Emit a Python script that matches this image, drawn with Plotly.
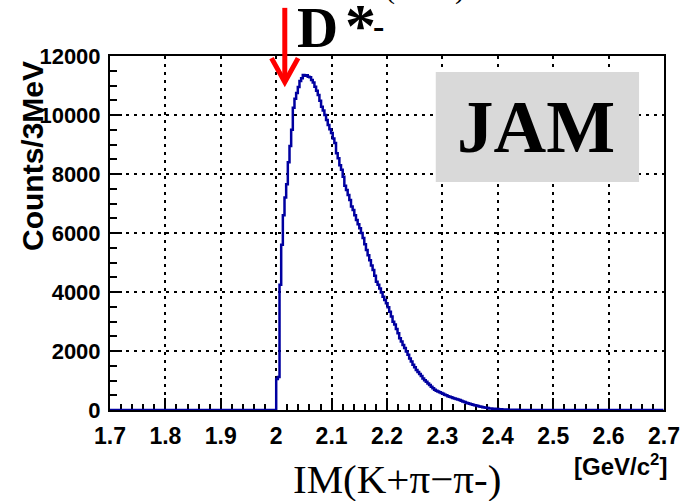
import numpy as np
import plotly.graph_objects as go

# Histogram binning: 3 MeV bins from 1.7 GeV
X_START = 1.7
BIN_WIDTH = 0.003
N_BINS = 333
N_EMPTY_LOW = 100  # bins below 2.0 GeV are empty

# Counts per 3 MeV bin starting at 2.000 GeV
peak_counts = [
    1050, 1120, 4250, 5600, 6600, 7200, 7650, 8400, 8950, 9500,
    10250, 10550, 10750, 10950, 11150, 11250, 11360, 11330, 11350, 11300,
    11280, 11190, 11100, 10960, 10820, 10680, 10480, 10280, 10150, 10000,
    9830, 9660, 9520, 9390, 9200, 9050, 8700, 8530, 8300, 8140,
    7910, 7600, 7460, 7290, 7120, 6900, 6780, 6600, 6440, 6300,
    6160, 6000, 5830, 5620, 5420, 5250, 5080, 4900, 4750, 4550,
    4350, 4250, 4120, 3980, 3840, 3730, 3620, 3480, 3330, 3170,
    2990, 2900, 2750, 2600, 2430, 2320, 2200, 2100, 1980, 1870,
    1750, 1640, 1530, 1450, 1360, 1290, 1220, 1150, 1070, 1010,
    960, 900, 850, 790, 735, 690, 650, 630, 600, 580,
    550, 520, 500, 470, 450, 430, 410, 390, 370, 355,
    340, 310, 290, 270, 250, 230, 210, 195, 180, 165,
    150, 135, 120, 110, 95, 85, 75, 65, 55, 50,
    45, 40, 35, 30, 26, 22, 20, 17, 15, 12,
    10, 9, 8, 7, 6, 5, 4, 4, 3, 3,
    2, 2, 2, 1, 1,
]

x_ticks = [1.7, 1.8, 1.9, 2.0, 2.1, 2.2, 2.3, 2.4, 2.5, 2.6, 2.7]
x_tick_text = ["1.7", "1.8", "1.9", "2", "2.1", "2.2", "2.3", "2.4", "2.5", "2.6", "2.7"]
y_ticks = [0, 2000, 4000, 6000, 8000, 10000, 12000]
y_tick_text = ["0", "2000", "4000", "6000", "8000", "10000", "12000"]

counts = [0] * N_EMPTY_LOW + peak_counts
counts += [0] * (N_BINS - len(counts))
edges = X_START + BIN_WIDTH * np.arange(N_BINS + 1)

# ROOT-style outline: step function starting from zero
step_x = np.concatenate([[edges[0]], edges])
step_y = np.concatenate([[0], counts, [counts[-1]]])

HIST_COLOR = "rgb(0,0,160)"
ARROW_X = 2.0155  # D*- mass marker
SERIF = "Liberation Serif, Times New Roman, serif"
SANS = "Liberation Sans, Arial, sans-serif"

# plot-area pixel geometry, used to place the free-floating labels
PL, PR, PT, PB = 110, 664, 56, 410


def px(x):
    return (x - PL) / (PR - PL)


def py(y):
    return (PB - y) / (PB - PT)


fig = go.Figure()
fig.add_trace(go.Scatter(
    x=step_x, y=step_y, mode="lines", line_shape="hv",
    line=dict(color=HIST_COLOR, width=2.5), hoverinfo="skip", showlegend=False,
))

axis_common = dict(
    showgrid=True, gridcolor="black", gridwidth=2, griddash="3px,5px",
    showline=True, linecolor="black", linewidth=2, mirror=True,
    ticks="inside", tickcolor="black", tickwidth=2, zeroline=False,
    layer="below traces", automargin=False,
)

fig.update_xaxes(
    range=[1.7, 2.7], tickvals=x_ticks, ticktext=x_tick_text, ticklen=12,
    minor=dict(ticks="inside", dtick=0.02, ticklen=6, tickwidth=2, tickcolor="black", showgrid=False),
    ticklabelstandoff=4, tickfont=dict(family=SANS, size=23, color="black", weight="bold"),
    **axis_common,
)
fig.update_yaxes(
    range=[0, 12000], tickvals=y_ticks, ticktext=y_tick_text, ticklen=12,
    minor=dict(ticks="inside", dtick=500, ticklen=7, tickwidth=2, tickcolor="black", showgrid=False),
    ticklabelstandoff=3, tickfont=dict(family=SANS, size=22, color="black", weight="bold"),
    **axis_common,
)

# JAM label box
fig.add_shape(type="rect", xref="x", yref="y", x0=2.288, x1=2.655, y0=7730, y1=11460,
              fillcolor="rgb(217,217,217)", line_width=0, layer="above")
fig.add_annotation(x=2.469, y=9560, xref="x", yref="y", text="<b>JAM</b>", showarrow=False,
                   font=dict(family=SERIF, size=73, color="black"))

# Red arrow marking the D*- mass
fig.add_shape(type="line", xref="x", yref="paper", x0=ARROW_X, x1=ARROW_X, y0=0.94, y1=1.136,
              line=dict(color="red", width=5))
fig.add_shape(type="path", xref="paper", yref="paper",
              path="M {a},{b} L {c},{d} L {e},{b}".format(
                  a=(ARROW_X - 1.7) - 0.024, b=0.994, c=(ARROW_X - 1.7), d=0.926, e=(ARROW_X - 1.7) + 0.024),
              line=dict(color="red", width=5))

# D*- label, with the mass line above it running off the top edge
fig.add_annotation(x=px(425), y=py(7), xref="paper", yref="paper",
                   xanchor="center", yanchor="bottom", text="(2010)", showarrow=False,
                   font=dict(family=SERIF, size=30, color="black"))
fig.add_annotation(x=px(295), y=py(61), xref="paper", yref="paper",
                   xanchor="left", yanchor="bottom", text="<b>D</b>", showarrow=False,
                   font=dict(family=SERIF, size=57, color="black"))
fig.add_annotation(x=px(343), y=py(25), xref="paper", yref="paper",
                   xanchor="left", yanchor="middle", text="<b>*</b>", showarrow=False,
                   font=dict(family=SERIF, size=62, color="black"))
fig.add_annotation(x=px(371), y=py(26), xref="paper", yref="paper",
                   xanchor="left", yanchor="middle", text="<b>-</b>", showarrow=False,
                   font=dict(family=SERIF, size=34, color="black"))

# Axis titles
fig.add_annotation(x=px(32), y=py(59), xref="paper", yref="paper", textangle=-90,
                   xanchor="center", yanchor="top", text="<b>Counts/3MeV</b>", showarrow=False,
                   font=dict(family=SANS, size=30, color="black"))
fig.add_annotation(x=px(669), y=py(465), xref="paper", yref="paper",
                   xanchor="right", yanchor="middle",
                   text="<b>[GeV/c<sup>2</sup>]</b>", showarrow=False,
                   font=dict(family=SANS, size=24, color="black"))
fig.add_annotation(x=px(397), y=py(479), xref="paper", yref="paper",
                   xanchor="center", yanchor="middle",
                   text="IM(K+\u03c0\u2212\u03c0-)", showarrow=False,
                   font=dict(family=SERIF, size=41, color="black"))

fig.update_layout(
    width=683, height=501,
    margin=dict(l=PL, r=683 - PR, t=PT, b=501 - PB, autoexpand=False),
    paper_bgcolor="white", plot_bgcolor="white",
    showlegend=False,
)

fig.write_html("out.html")
